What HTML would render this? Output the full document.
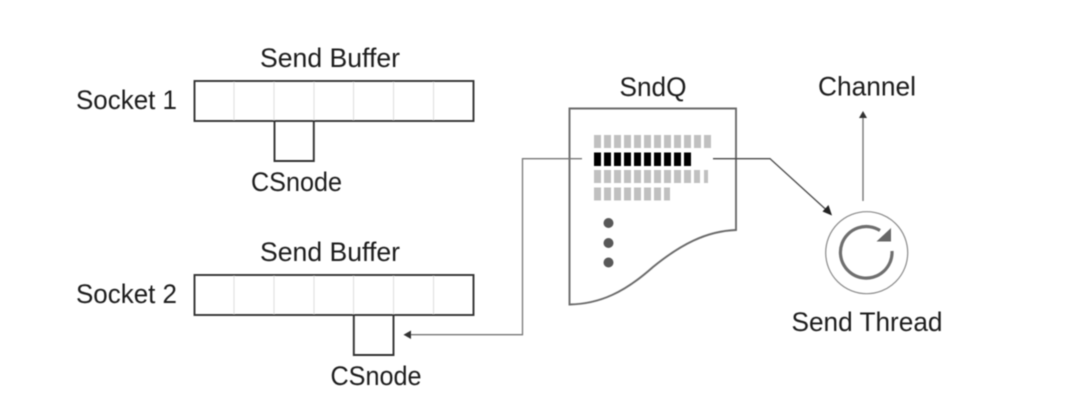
<!DOCTYPE html>
<html>
<head>
<meta charset="utf-8">
<style>
html,body{margin:0;padding:0;background:#fff;width:1080px;height:401px;overflow:hidden}
svg{display:block}
text{font-family:"Liberation Sans",sans-serif;font-size:26.500px;fill:#1c1c1c}
</style>
</head>
<body>
<svg width="1080" height="401" viewBox="0 0 1080 401" xmlns="http://www.w3.org/2000/svg">
<defs>
<filter id="b" x="-5%" y="-5%" width="110%" height="110%"><feGaussianBlur stdDeviation="0.45"/></filter>
</defs>
<g filter="url(#b)">
  <!-- Buffers -->
  <g stroke="#e2e2e2" stroke-width="1.2">
    <path d="M234 81V121M274 81V121M314 81V121M353.500 81V121M393.500 81V121M433.500 81V121"/>
    <path d="M234 275V315M274 275V315M314 275V315M353.500 275V315M393.500 275V315M433.500 275V315"/>
  </g>
  <g fill="none" stroke="#333" stroke-width="1.900">
    <rect x="194.500" y="81" width="279" height="40"/>
    <path d="M274.500 121V161H313.800V121"/>
    <rect x="194.500" y="275" width="279" height="40"/>
    <path d="M353.800 315V355H393.500V315"/>
  </g>

  <!-- SndQ -->
  <path d="M569.500 108.500H736V230C706 231 680 245 653 267C625 292 600 304 569.500 304.500Z" fill="none" stroke="#6a6a6a" stroke-width="1.900"/>

  <!-- rows -->
  <g fill="#c0c0c0">
    <rect x="594" y="135" width="7" height="13"/><rect x="604" y="135" width="7" height="13"/><rect x="614" y="135" width="7" height="13"/><rect x="624" y="135" width="7" height="13"/><rect x="634" y="135" width="7" height="13"/><rect x="644" y="135" width="7" height="13"/><rect x="654" y="135" width="7" height="13"/><rect x="664" y="135" width="7" height="13"/><rect x="674" y="135" width="7" height="13"/><rect x="684" y="135" width="7" height="13"/><rect x="694" y="135" width="7" height="13"/><rect x="704" y="135" width="7" height="13"/>
    <rect x="594" y="170" width="7" height="13"/><rect x="604" y="170" width="7" height="13"/><rect x="614" y="170" width="7" height="13"/><rect x="624" y="170" width="7" height="13"/><rect x="634" y="170" width="7" height="13"/><rect x="644" y="170" width="7" height="13"/><rect x="654" y="170" width="7" height="13"/><rect x="664" y="170" width="7" height="13"/><rect x="674" y="170" width="7" height="13"/><rect x="684" y="170" width="7" height="13"/><rect x="694" y="170" width="6" height="13"/><rect x="704" y="170" width="4" height="13"/>
    <rect x="594" y="187.500" width="7" height="13"/><rect x="604" y="187.500" width="7" height="13"/><rect x="614" y="187.500" width="7" height="13"/><rect x="624" y="187.500" width="7" height="13"/><rect x="634" y="187.500" width="7" height="13"/><rect x="644" y="187.500" width="7" height="13"/><rect x="654" y="187.500" width="7" height="13"/><rect x="664" y="187.500" width="6" height="13"/>
  </g>
  <g fill="#000">
    <rect x="594" y="152.500" width="7" height="13.500"/><rect x="604" y="152.500" width="7" height="13.500"/><rect x="614" y="152.500" width="7" height="13.500"/><rect x="624" y="152.500" width="7" height="13.500"/><rect x="634" y="152.500" width="7" height="13.500"/><rect x="644" y="152.500" width="7" height="13.500"/><rect x="654" y="152.500" width="7" height="13.500"/><rect x="664" y="152.500" width="7" height="13.500"/><rect x="674" y="152.500" width="7" height="13.500"/><rect x="684" y="152.500" width="7" height="13.500"/>
  </g>

  <!-- dots -->
  <g fill="#595959">
    <circle cx="608.500" cy="223" r="5"/>
    <circle cx="608.500" cy="243" r="5"/>
    <circle cx="608.500" cy="262.500" r="5"/>
  </g>

  <!-- connectors -->
  <path d="M582 158.700H522.500V334.700H410" fill="none" stroke="#777" stroke-width="1.300"/>
  <path d="M403.500 334.700L411 330.500V339Z" fill="#333"/>
  <path d="M713 158.700H770L827 210.500" fill="none" stroke="#4a4a4a" stroke-width="1.300"/>
  <path d="M832 215.500L822.500 211.500L828.500 205Z" fill="#222"/>
  <path d="M863 201V116" fill="none" stroke="#777" stroke-width="1.400"/>
  <path d="M863 111L859 118H867Z" fill="#333"/>

  <!-- send thread icon -->
  <circle cx="866.700" cy="252.700" r="41" fill="none" stroke="#8a8a8a" stroke-width="1.200"/>
  <path d="M892 251A25.800 25.800 0 1 1 880 230.500" fill="none" stroke="#6e6e6e" stroke-width="3.200"/>
  <path d="M891 228V241.500H876.500Z" fill="#666"/>
</g>

<!-- labels -->
<g filter="url(#b)">
<text x="260" y="67" textLength="140" lengthAdjust="spacingAndGlyphs">Send Buffer</text>
<text x="76" y="109" textLength="101" lengthAdjust="spacingAndGlyphs">Socket 1</text>
<text x="251" y="191" textLength="91" lengthAdjust="spacingAndGlyphs">CSnode</text>
<text x="260" y="261" textLength="140" lengthAdjust="spacingAndGlyphs">Send Buffer</text>
<text x="76" y="303" textLength="101" lengthAdjust="spacingAndGlyphs">Socket 2</text>
<text x="330.500" y="385" textLength="91" lengthAdjust="spacingAndGlyphs">CSnode</text>
<text x="619.500" y="96" textLength="67" lengthAdjust="spacingAndGlyphs">SndQ</text>
<text x="818" y="95.500" textLength="98" lengthAdjust="spacingAndGlyphs">Channel</text>
<text x="791.500" y="331" textLength="151" lengthAdjust="spacingAndGlyphs">Send Thread</text>
</g>
</svg>
</body>
</html>
